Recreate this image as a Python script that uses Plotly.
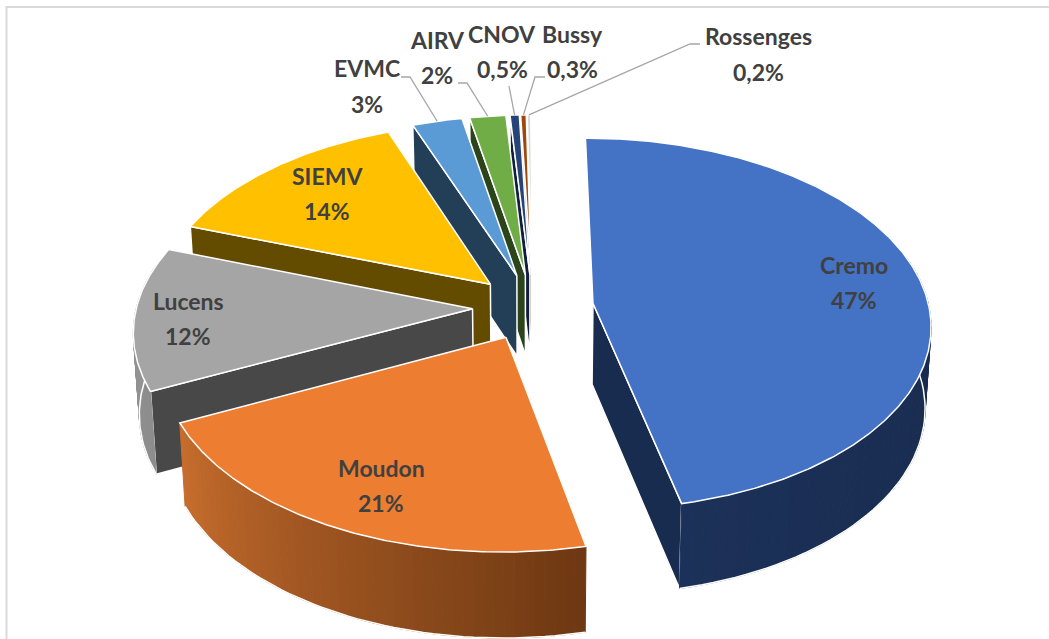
import math
import plotly.graph_objects as go

categories = ["Cremo", "Moudon", "Lucens", "SIEMV", "EVMC", "AIRV", "CNOV", "Bussy", "Rossenges"]
values = [46.6, 21.45, 12.44, 13.86, 2.7, 1.95, 0.5, 0.3, 0.2]
pct_labels = ["47%", "21%", "12%", "14%", "3%", "2%", "0,5%", "0,3%", "0,2%"]
top_colors = ["#4472C4", "#ED7D31", "#A5A5A5", "#FFC000", "#5B9BD5", "#70AD47", "#264478", "#9E480E", "#D9D9D9"]
wall_colors = ["#182C50", "#733A14", "#484848", "#634C00", "#223F57", "#2C4419", "#111F3D", "#5A2A08", "#BBBBBB"]
outer_from = ["#1C3159", "#C86E2E", "#8C8C8C", "#634C00", "#223F57", "#2C4419", "#111F3D", "#5A2A08", "#BBBBBB"]
outer_to = ["#182A4C", "#6E3812", "#999999", "#634C00", "#223F57", "#2C4419", "#111F3D", "#5A2A08", "#BBBBBB"]
name_pos = [(854, 265), (381, 468), (188, 301), (327, 176), (367, 68), (437, 40), (502, 34), (572, 34), (758, 36)]
pct_pos = [(854, 300), (381, 503), (188, 336), (327, 211), (367, 104), (437, 75), (502, 69), (572, 69), (758, 72)]
leader_paths = {4: [(401, 77), (410, 77)], 5: [(458, 83), (467, 83)], 6: [(509, 86)],
                7: [(545, 77), (535, 77)], 8: [(700, 44), (690, 44)]}

CX, CY, A, B, K, EXPLODE, ROT = 533, 307, 336, 184, 0.11, 0.18, -0.3
TOTAL = sum(values)


def top(ang, bis, r=1.0):
    """Perspective projection of a point of an exploded slice."""
    t, b = math.radians(ang), math.radians(bis)
    u = EXPLODE * math.sin(b) + r * math.sin(t)
    v = EXPLODE * math.cos(b) + r * math.cos(t)
    s = 1 / (1 + K * v)
    return CX + A * u * s, CY - B * v * s


def bot(x, y):
    return CX + (x - CX) * 0.985, y + 81 + 4 * (y - 305) / 200


def mix(c1, c2, t):
    a = [int(c1[i:i + 2], 16) for i in (1, 3, 5)]
    b = [int(c2[i:i + 2], 16) for i in (1, 3, 5)]
    return "#%02x%02x%02x" % tuple(round(p + (q - p) * t) for p, q in zip(a, b))


def poly(fig, pts, fill, line="white", width=1.5):
    fig.add_trace(go.Scatter(x=[p[0] for p in pts] + [pts[0][0]], y=[p[1] for p in pts] + [pts[0][1]],
                             mode="lines", fill="toself", fillcolor=fill,
                             line=dict(color=line, width=width), hoverinfo="skip", showlegend=False))


fig = go.Figure()
angles = []
a0 = ROT
for val in values:
    a1 = a0 + val / TOTAL * 360
    angles.append((a0, a1))
    a0 = a1

# painter's order: back slices first
order = [0, 8, 7, 6, 5, 4, 3, 2, 1]
for i in order:
    a0, a1 = angles[i]
    bis = (a0 + a1) / 2
    apex = top(0, bis, 0)
    # radial walls that face the viewer
    if a0 > 180:
        p = top(a0, bis)
        poly(fig, [apex, p, bot(*p), bot(*apex)], wall_colors[i])
    if a1 < 180:
        p = top(a1, bis)
        poly(fig, [apex, p, bot(*p), bot(*apex)], wall_colors[i])
    # outer cylinder wall, split in strips for the gradient; its ends stay hidden under the top face
    lo, hi = max(a0, 75), min(a1, 285)
    if hi > lo:
        n = 50
        arc = [lo + (hi - lo) * j / n for j in range(n + 1)]
        for j in range(n):
            p, q = top(arc[j], bis), top(arc[j + 1], bis)
            col = mix(outer_from[i], outer_to[i], j / n if i == 2 else 1 - j / n)
            poly(fig, [p, q, bot(*q), bot(*p)], col, line=col, width=1)
        bottoms = [bot(*top(a, bis)) for a in arc]
        fig.add_trace(go.Scatter(x=[p[0] for p in bottoms], y=[p[1] for p in bottoms],
                                 mode="lines", line=dict(color="white", width=1.5), hoverinfo="skip", showlegend=False))
    # top face
    n = max(3, int((a1 - a0) * 2))
    pts = [apex] + [top(a0 + (a1 - a0) * j / n, bis) for j in range(n + 1)]
    poly(fig, pts, top_colors[i])

for i, path in leader_paths.items():
    a0, a1 = angles[i]
    bis = (a0 + a1) / 2
    end = top(bis, bis, 1.0)
    pts = path + [end]
    fig.add_trace(go.Scatter(x=[p[0] for p in pts], y=[p[1] for p in pts], mode="lines",
                             line=dict(color="#A6A6A6", width=1.3), hoverinfo="skip", showlegend=False))

font = dict(family="Lato, Carlito, sans-serif", size=23, color="#404040")
for i, cat in enumerate(categories):
    for txt, (x, y) in ((cat, name_pos[i]), (pct_labels[i], pct_pos[i])):
        fig.add_annotation(x=x, y=y, text="<b>%s</b>" % txt, showarrow=False, font=font,
                           xanchor="center", yanchor="middle")

frame = dict(type="rect", x0=6.5, y0=7, x1=1100, y1=700, line=dict(color="#D9D9D9", width=2), layer="below")
fig.update_layout(width=1049, height=639, margin=dict(l=0, r=0, t=0, b=0), paper_bgcolor="white",
                  plot_bgcolor="white", showlegend=False, shapes=[frame],
                  xaxis=dict(range=[0, 1049], visible=False, fixedrange=True),
                  yaxis=dict(range=[639, 0], visible=False, fixedrange=True))
fig.write_html("out.html", config=dict(displayModeBar=False),
               post_script="document.body.style.margin='0';document.body.style.overflow='hidden';")
